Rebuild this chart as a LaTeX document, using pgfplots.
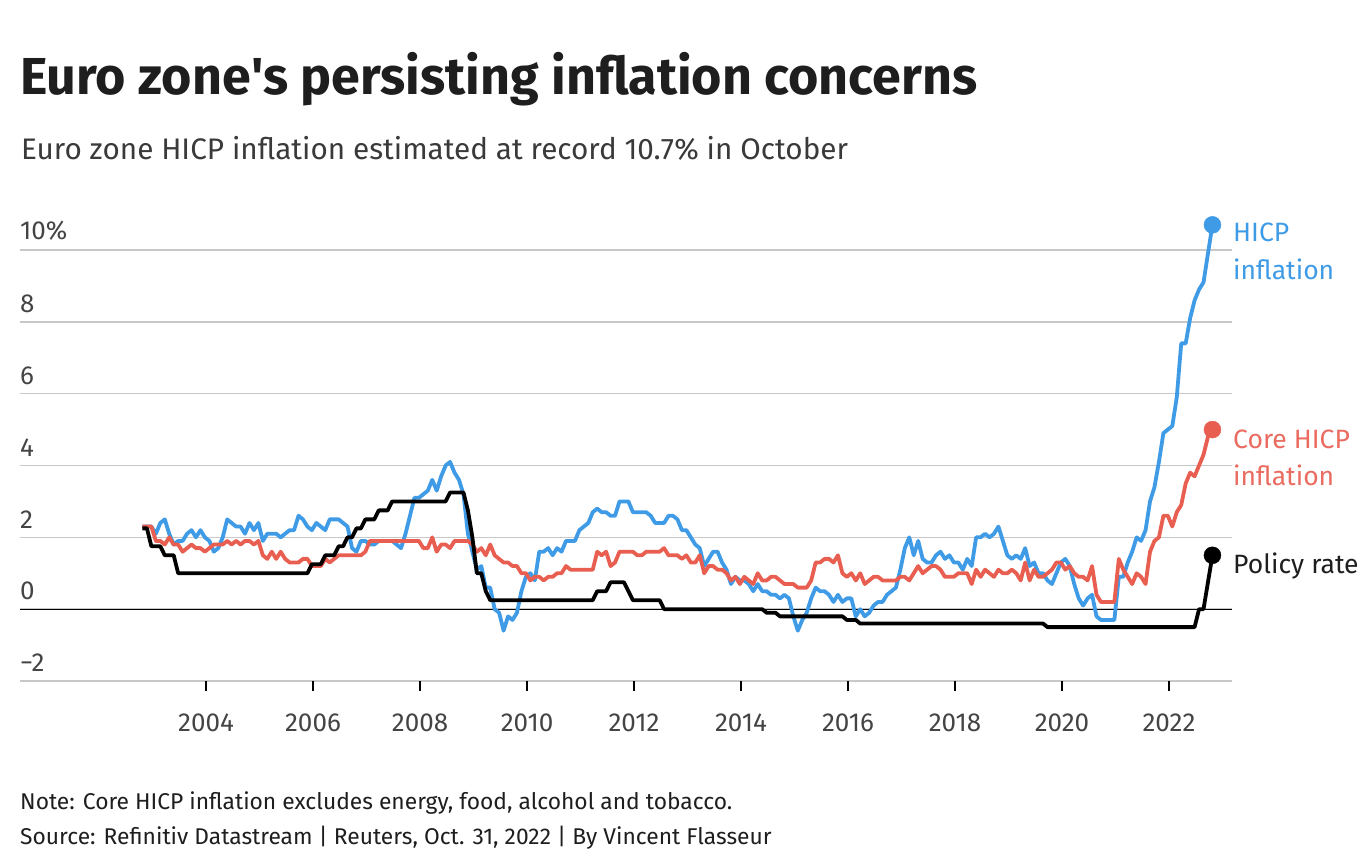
\documentclass[border=0pt]{standalone}
\usepackage{pgfplots}
\usepackage{pgfplotstable}
\pgfplotsset{compat=1.18}
\usepackage{fontspec}
\setmainfont{Fira Sans}
\definecolor{hicp}{HTML}{3F9BE6}
\definecolor{core}{HTML}{E85E50}
\definecolor{corelab}{HTML}{EA6B60}
\definecolor{txt}{HTML}{1E1E1E}
\definecolor{subtxt}{HTML}{3A3A3A}
\definecolor{ticktxt}{HTML}{444444}
\definecolor{gridc}{HTML}{C8C8C8}
\newcommand{\sq}{\XeTeXglyph\XeTeXcharglyph"0027\relax}

\pgfplotstableread{
hicp core rate
2.3 2.3 2.25
2.3 2.3 2.25
2.3 2.3 1.75
2.1 1.9 1.75
2.4 1.9 1.75
2.5 1.8 1.50
2.1 2.0 1.50
1.8 1.8 1.50
1.9 1.8 1.00
1.9 1.6 1.00
2.1 1.7 1.00
2.2 1.8 1.00
2.0 1.7 1.00
2.2 1.7 1.00
2.0 1.6 1.00
1.9 1.7 1.00
1.6 1.8 1.00
1.7 1.8 1.00
2.0 1.8 1.00
2.5 1.9 1.00
2.4 1.8 1.00
2.3 1.9 1.00
2.3 1.8 1.00
2.1 1.9 1.00
2.4 1.9 1.00
2.2 1.8 1.00
2.4 1.9 1.00
1.9 1.5 1.00
2.1 1.4 1.00
2.1 1.6 1.00
2.1 1.4 1.00
2.0 1.6 1.00
2.1 1.4 1.00
2.2 1.3 1.00
2.2 1.3 1.00
2.6 1.3 1.00
2.5 1.4 1.00
2.3 1.4 1.00
2.2 1.2 1.25
2.4 1.2 1.25
2.3 1.2 1.25
2.2 1.4 1.50
2.5 1.3 1.50
2.5 1.4 1.50
2.5 1.5 1.75
2.4 1.5 1.75
2.3 1.5 2.00
1.7 1.5 2.00
1.6 1.5 2.25
1.9 1.5 2.25
1.9 1.6 2.50
1.8 1.9 2.50
1.8 1.9 2.50
1.9 1.9 2.75
1.9 1.9 2.75
1.9 1.9 2.75
1.9 1.9 3.00
1.8 1.9 3.00
1.7 1.9 3.00
2.1 1.9 3.00
2.6 1.9 3.00
3.1 1.9 3.00
3.1 1.9 3.00
3.2 1.7 3.00
3.3 1.7 3.00
3.6 2.0 3.00
3.3 1.6 3.00
3.7 1.8 3.00
4.0 1.8 3.00
4.1 1.7 3.25
3.8 1.9 3.25
3.6 1.9 3.25
3.2 1.9 3.25
2.1 1.9 2.75
1.6 1.8 2.00
1.1 1.6 1.00
1.2 1.7 1.00
0.6 1.5 0.50
0.6 1.8 0.25
0.0 1.5 0.25
-0.1 1.4 0.25
-0.6 1.3 0.25
-0.2 1.3 0.25
-0.3 1.2 0.25
-0.1 1.2 0.25
0.5 1.0 0.25
0.9 1.0 0.25
1.0 0.8 0.25
0.8 0.9 0.25
1.6 0.9 0.25
1.6 0.8 0.25
1.7 0.9 0.25
1.5 0.9 0.25
1.7 1.0 0.25
1.6 1.0 0.25
1.9 1.2 0.25
1.9 1.1 0.25
1.9 1.1 0.25
2.2 1.1 0.25
2.3 1.1 0.25
2.4 1.1 0.25
2.7 1.1 0.25
2.8 1.6 0.50
2.7 1.5 0.50
2.7 1.6 0.50
2.6 1.2 0.75
2.6 1.3 0.75
3.0 1.6 0.75
3.0 1.6 0.75
3.0 1.6 0.50
2.7 1.6 0.25
2.7 1.5 0.25
2.7 1.5 0.25
2.7 1.6 0.25
2.6 1.6 0.25
2.4 1.6 0.25
2.4 1.6 0.25
2.4 1.7 0.00
2.6 1.5 0.00
2.6 1.5 0.00
2.5 1.5 0.00
2.2 1.4 0.00
2.2 1.5 0.00
2.0 1.3 0.00
1.8 1.3 0.00
1.7 1.5 0.00
1.2 1.0 0.00
1.4 1.2 0.00
1.6 1.2 0.00
1.6 1.1 0.00
1.3 1.1 0.00
1.1 1.0 0.00
0.7 0.8 0.00
0.9 0.9 0.00
0.8 0.7 0.00
0.8 0.9 0.00
0.7 0.8 0.00
0.5 0.7 0.00
0.7 1.0 0.00
0.5 0.8 0.00
0.5 0.8 -0.10
0.4 0.9 -0.10
0.4 0.9 -0.10
0.3 0.8 -0.20
0.4 0.7 -0.20
0.3 0.7 -0.20
-0.2 0.7 -0.20
-0.6 0.6 -0.20
-0.3 0.6 -0.20
-0.1 0.6 -0.20
0.3 0.8 -0.20
0.6 1.3 -0.20
0.5 1.3 -0.20
0.5 1.4 -0.20
0.4 1.4 -0.20
0.2 1.3 -0.20
0.4 1.5 -0.20
0.2 1.0 -0.20
0.3 0.9 -0.30
0.3 1.0 -0.30
-0.2 0.8 -0.30
0.0 1.0 -0.40
-0.2 0.7 -0.40
-0.1 0.8 -0.40
0.1 0.9 -0.40
0.2 0.9 -0.40
0.2 0.8 -0.40
0.4 0.8 -0.40
0.5 0.8 -0.40
0.6 0.8 -0.40
1.1 0.9 -0.40
1.7 0.9 -0.40
2.0 0.8 -0.40
1.5 1.0 -0.40
1.9 1.2 -0.40
1.4 1.0 -0.40
1.3 1.1 -0.40
1.3 1.2 -0.40
1.5 1.2 -0.40
1.6 1.1 -0.40
1.4 0.9 -0.40
1.5 0.9 -0.40
1.3 0.9 -0.40
1.3 1.0 -0.40
1.1 1.0 -0.40
1.4 1.0 -0.40
1.2 0.7 -0.40
2.0 1.1 -0.40
2.0 0.9 -0.40
2.1 1.1 -0.40
2.0 1.0 -0.40
2.1 0.9 -0.40
2.3 1.1 -0.40
1.9 1.0 -0.40
1.5 1.0 -0.40
1.4 1.1 -0.40
1.5 1.0 -0.40
1.4 0.8 -0.40
1.7 1.3 -0.40
1.2 0.8 -0.40
1.3 1.1 -0.40
1.0 0.9 -0.40
1.0 0.9 -0.40
0.8 1.0 -0.50
0.7 1.1 -0.50
1.0 1.3 -0.50
1.3 1.3 -0.50
1.4 1.1 -0.50
1.2 1.2 -0.50
0.7 1.0 -0.50
0.3 0.9 -0.50
0.1 0.9 -0.50
0.3 0.8 -0.50
0.4 1.2 -0.50
-0.2 0.4 -0.50
-0.3 0.2 -0.50
-0.3 0.2 -0.50
-0.3 0.2 -0.50
-0.3 0.2 -0.50
0.9 1.4 -0.50
0.9 1.1 -0.50
1.3 0.9 -0.50
1.6 0.7 -0.50
2.0 1.0 -0.50
1.9 0.9 -0.50
2.2 0.7 -0.50
3.0 1.6 -0.50
3.4 1.9 -0.50
4.1 2.0 -0.50
4.9 2.6 -0.50
5.0 2.6 -0.50
5.1 2.3 -0.50
5.9 2.7 -0.50
7.4 2.9 -0.50
7.4 3.5 -0.50
8.1 3.8 -0.50
8.6 3.7 -0.50
8.9 4.0 0.00
9.1 4.3 0.00
9.9 4.8 0.75
10.7 5.0 1.50
}\data

\begin{document}
\begin{tikzpicture}[x=1pt,y=1pt]
\useasboundingbox (0,0) rectangle (1364,-866);
\node[anchor=base west, inner sep=0pt, text=txt, font=\fontsize{52}{60}\selectfont\bfseries] at (20,-95) {Euro zone\sq s persisting inflation concerns};
\node[anchor=base west, inner sep=0pt, text=subtxt, font=\fontsize{29.7}{34}\selectfont] at (21,-160) {Euro zone HICP inflation estimated at record 10.7\% in October};
\begin{axis}[
  at={(20pt,-681pt)}, anchor=south west, scale only axis,
  width=1212pt, height=431pt,
  xmin=2000.523, xmax=2023.178, ymin=-2, ymax=10,
  clip=false,
  axis line style={draw=none},
  ymajorgrids, grid style={gridc, line width=1.5pt},
  ytick={-2,0,2,4,6,8,10},
  yticklabels={−2,0,2,4,6,8,10\%},
  ytick style={draw=none},
  tick pos=left,
  yticklabel style={anchor=south west, inner sep=0pt, xshift=0pt, yshift=9pt, text=ticktxt, font=\fontsize{26}{30}\selectfont},
  xtick={2004,2006,...,2022},
  xticklabels={2004,2006,2008,2010,2012,2014,2016,2018,2020,2022},
  xtick style={black, line width=1.5pt},
  xtick align=outside, major tick length=10pt,
  xticklabel style={anchor=base, inner sep=0pt, yshift=-40pt, text=ticktxt, font=\fontsize{26}{30}\selectfont},
  /pgf/number format/assume math mode=true,
]
\draw[black, line width=1.3pt] (axis cs:2000.523,0) -- (axis cs:2023.178,0);
\addplot[hicp, line width=3.8pt, line join=round, no marks] table[x expr=2002.8125+\coordindex/12, y=hicp] {\data};
\addplot[core, line width=3.8pt, line join=round, no marks] table[x expr=2002.8125+\coordindex/12, y=core] {\data};
\addplot[black, line width=3.8pt, line join=round, no marks] table[x expr=2002.8125+\coordindex/12, y=rate] {\data};
\addplot[only marks, mark=*, mark size=8.5pt, hicp] coordinates {(2022.8125,10.7)};
\addplot[only marks, mark=*, mark size=8.5pt, core] coordinates {(2022.8125,5.0)};
\addplot[only marks, mark=*, mark size=8.5pt, black] coordinates {(2022.8125,1.5)};
\end{axis}
\begin{scope}[every node/.style={anchor=base west, inner sep=0pt, font=\fontsize{26.5}{32}\selectfont}]
\node[text=hicp] at (1233,-242) {HICP};
\node[text=hicp] at (1233,-280) {inflation};
\node[text=corelab] at (1233,-448) {Core HICP};
\node[text=corelab] at (1233,-485) {inflation};
\node[text=txt] at (1233,-573) {Policy rate};
\end{scope}
\begin{scope}[every node/.style={anchor=base west, inner sep=0pt, text=txt, font=\fontsize{22.8}{26}\selectfont}]
\node at (20,-809) {Note: Core HICP inflation excludes energy, food, alcohol and tobacco.};
\node at (20,-844) {Source: Refinitiv Datastream | Reuters, Oct. 31, 2022 | By Vincent Flasseur};
\end{scope}
\end{tikzpicture}
\end{document}
